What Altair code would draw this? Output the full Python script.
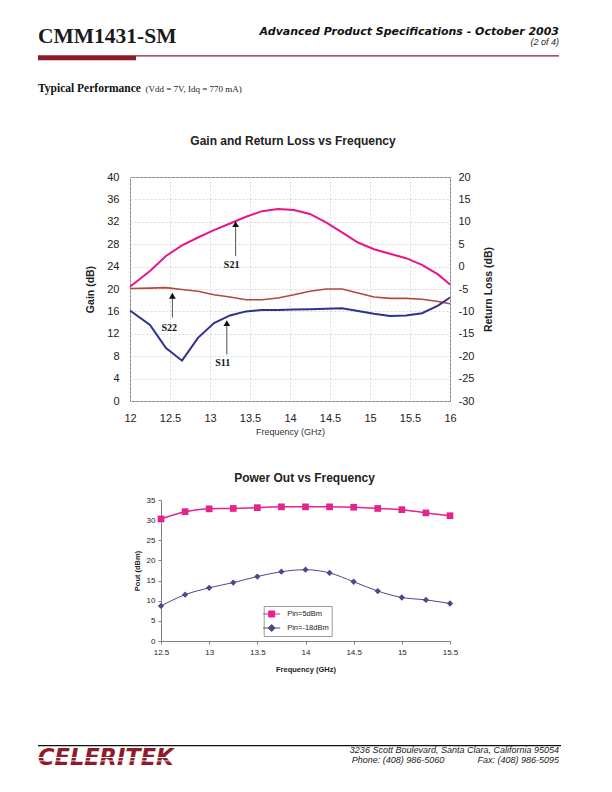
import altair as alt
import pandas as pd

SANS = "Liberation Sans"
SERIF = "Liberation Serif"
HEAVY = "DejaVu Sans"
RED = "#8d1c2b"

# ---------------- page text ----------------
doc_title = "CMM1431-SM"
doc_subtitle = "Advanced Product Specifications - October 2003"
doc_page = "(2 of 4)"
section_title = "Typical Performance"
section_cond = "(Vdd = 7V, Idq = 770 mA)"
logo_text = "CELERITEK"
addr_line1 = "3236 Scott Boulevard, Santa Clara, California 95054"
addr_phone = "Phone: (408) 986-5060"
addr_fax = "Fax: (408) 986-5095"

# ---------------- chart 1 data ----------------
freq_sp = [12.0, 12.25, 12.45, 12.65, 12.85, 13.05, 13.25, 13.45, 13.65, 13.85, 14.05,
           14.25, 14.45, 14.65, 14.85, 15.05, 15.25, 15.45, 15.65, 15.85, 16.0]
s21_gain = [20.4, 23.2, 25.9, 27.8, 29.2, 30.5, 31.7, 32.9, 33.9, 34.3, 34.1,
            33.4, 31.9, 30.1, 28.3, 27.1, 26.3, 25.5, 24.3, 22.6, 20.8]
s22_rl = [-4.9, -4.8, -4.7, -5.1, -5.5, -6.3, -6.8, -7.4, -7.4, -7.0, -6.3,
          -5.5, -5.0, -5.0, -5.9, -6.8, -7.1, -7.1, -7.3, -7.8, -8.3]
s11_rl = [-9.8, -13.0, -18.2, -21.0, -15.9, -12.6, -10.9, -10.0, -9.7, -9.7, -9.6,
          -9.5, -9.4, -9.3, -9.9, -10.5, -11.0, -10.9, -10.4, -8.7, -6.9]
freq_ticks1 = [12, 12.5, 13, 13.5, 14, 14.5, 15, 15.5, 16]
gain_ticks = [0, 4, 8, 12, 16, 20, 24, 28, 32, 36, 40]
rl_ticks = [-30, -25, -20, -15, -10, -5, 0, 5, 10, 15, 20]

ann_labels = ["S21", "S22", "S11"]
ann_x = [13.32, 12.53, 13.21]
ann_tip = [31.6, 18.8, 13.9]
ann_tail = [25.9, 14.9, 8.3]
ann_lx = [13.27, 12.49, 13.16]
ann_ly = [24.3, 13.1, 6.7]

# ---------------- chart 2 data ----------------
freq_pout = [12.5, 12.75, 13.0, 13.25, 13.5, 13.75, 14.0, 14.25, 14.5, 14.75, 15.0, 15.25, 15.5]
pout_5dbm = [30.3, 32.1, 32.8, 32.9, 33.1, 33.3, 33.3, 33.3, 33.2, 32.9, 32.6, 31.8, 31.1]
pout_m18dbm = [8.7, 11.5, 13.2, 14.5, 16.0, 17.2, 17.7, 16.9, 14.7, 12.4, 10.8, 10.2, 9.3]
series_names = ["Pin=5dBm", "Pin=-18dBm"]
pout_ticks = [0, 5, 10, 15, 20, 25, 30, 35]
freq_ticks2 = [12.5, 13, 13.5, 14, 14.5, 15, 15.5]

PLAIN = "'' + datum.value"


def one():
    return pd.DataFrame({"k": [0]})


def txt(s, x, y, **kw):
    return alt.Chart(pd.DataFrame({"t": [s]})).mark_text(baseline="alphabetic", **kw).encode(
        x=alt.value(x), y=alt.value(y), text="t:N")


def box(x, x2, y, y2, color):
    return alt.Chart(one()).mark_rect(color=color).encode(
        x=alt.value(x), x2=alt.value(x2), y=alt.value(y), y2=alt.value(y2))


# ---------------- header ----------------
header = alt.layer(
    txt(doc_title, -92, 34, align="left", font=SERIF, fontSize=21.5, fontWeight="bold", color="#1a1a1a"),
    txt(doc_subtitle, 429, 25.5, align="right", font=HEAVY, fontSize=11, fontWeight="bold",
        fontStyle="italic", color="#111"),
    txt(doc_page, 429, 35.5, align="right", font=SANS, fontSize=9, fontStyle="italic", color="#222"),
    box(-92, 6, 46.3, 51.3, RED),
    box(6, 429, 46.3, 47.5, RED),
    txt(section_title, -92, 83, align="left", font=SERIF, fontSize=11.5, fontWeight="bold", color="#111"),
    txt(section_cond, 15.5, 83, align="left", font=SERIF, fontSize=9, color="#222"),
).properties(width=320, height=69)

# ---------------- footer ----------------
footer = alt.layer(
    box(-92, 431, 5, 6.2, "#111"),
    txt(logo_text, -92, 24.5, align="left", font=HEAVY, fontSize=22.5, fontWeight="bold",
        fontStyle="italic", color=RED),
    box(-92, 56, 17, 18, "white"),
    box(-92, 56, 20.5, 21.3, "white"),
    txt(addr_line1, 429, 13.3, align="right", font=SANS, fontSize=9, fontStyle="italic", color="#222"),
    txt(addr_phone, 221.7, 23.3, align="left", font=SANS, fontSize=9, fontStyle="italic", color="#222"),
    txt(addr_fax, 429, 23.3, align="right", font=SANS, fontSize=9, fontStyle="italic", color="#222"),
).properties(width=320, height=40)

# ---------------- chart 1 ----------------
PINK = "#e8168a"
BRICK = "#b5473d"
NAVY = "#2e3192"
GRID = "#cfcfcf"

sp = pd.DataFrame({"freq": freq_sp, "s21": s21_gain, "s22": s22_rl, "s11": s11_rl})
ann = pd.DataFrame({"label": ann_labels, "ax": ann_x, "tip": ann_tip, "tail": ann_tail,
                    "lx": ann_lx, "ly": ann_ly})


def xfreq1(field):
    return alt.X(f"{field}:Q", scale=alt.Scale(domain=[12, 16], nice=False, zero=False),
                 axis=alt.Axis(values=freq_ticks1, labelExpr=PLAIN, title="Frequency (GHz)",
                               grid=True, gridColor=GRID, gridDash=[2, 2], gridWidth=0.8,
                               ticks=False, tickSize=0, domain=False, labelFlush=False,
                               labelFont=SANS, labelFontSize=11, labelColor="#222", labelPadding=11,
                               titleFont=SANS, titleFontSize=9, titleFontWeight="normal",
                               titleColor="#333", titleY=30, titleBaseline="middle"))


def ygain(field):
    return alt.Y(f"{field}:Q", scale=alt.Scale(domain=[0, 40], nice=False, zero=False),
                 axis=alt.Axis(values=gain_ticks, labelExpr=PLAIN, title="Gain (dB)", orient="left",
                               grid=True, gridColor=GRID, gridDash=[2, 2], gridWidth=0.8,
                               ticks=False, tickSize=0, domain=False, labelFlush=False,
                               labelFont=SANS, labelFontSize=11, labelColor="#222", labelPadding=11,
                               titleFont=SANS, titleFontSize=10.5, titleFontWeight="bold",
                               titleColor="#222", titleX=-40, titleY=112, titleAngle=270,
                               titleBaseline="middle", titleAlign="center"))


def yrl(field):
    return alt.Y(f"{field}:Q", scale=alt.Scale(domain=[-30, 20], nice=False, zero=False),
                 axis=alt.Axis(values=rl_ticks, labelExpr=PLAIN, title="Return Loss (dB)", orient="right",
                               grid=False, ticks=False, tickSize=0, domain=False, labelFlush=False,
                               labelFont=SANS, labelFontSize=11, labelColor="#222", labelPadding=8,
                               titleFont=SANS, titleFontSize=10.5, titleFontWeight="bold",
                               titleColor="#222", titleX=38, titleY=112, titleAngle=270,
                               titleBaseline="middle", titleAlign="center"))


s21 = alt.Chart(sp).mark_line(color=PINK, strokeWidth=2).encode(x=xfreq1("freq"), y=ygain("s21"))
ann_rule = alt.Chart(ann).mark_rule(color="#555", strokeWidth=1).encode(
    x=xfreq1("ax"), y=ygain("tip"), y2="tail:Q")
ann_head = alt.Chart(ann).mark_point(shape="triangle-up", filled=True, color="#111", size=45,
                                     opacity=1).encode(x=xfreq1("ax"), y=ygain("tip"))
ann_text = alt.Chart(ann).mark_text(font=SERIF, fontSize=10, fontWeight="bold", color="#111",
                                    baseline="middle").encode(
    x=xfreq1("lx"), y=ygain("ly"), text="label:N")
s22 = alt.Chart(sp).mark_line(color=BRICK, strokeWidth=1.6).encode(x=xfreq1("freq"), y=yrl("s22"))
s11 = alt.Chart(sp).mark_line(color=NAVY, strokeWidth=2).encode(x=xfreq1("freq"), y=yrl("s11"))

chart1 = alt.layer(
    alt.layer(s21, ann_rule, ann_head, ann_text),
    alt.layer(s22, s11),
).resolve_scale(y="independent").properties(
    width=320, height=224,
    view=alt.ViewBackground(stroke="#7f7f7f", strokeWidth=1),
    title=alt.Title("Gain and Return Loss vs Frequency", font=SANS, fontSize=12, fontWeight="bold",
                    color="#222", anchor="middle", frame="group", offset=18, baseline="middle", dx=3),
)

# ---------------- chart 2 ----------------
PINK2 = "#e4238c"
PURPLE = "#4a4a8a"
AX = "#808080"
SQ_PATH = "M-1.7,0H1.7M-0.6,-0.6H0.6V0.6H-0.6Z"
DI_PATH = "M-1.7,0H1.7M0,-0.7L0.7,0L0,0.7L-0.7,0Z"

pout = pd.DataFrame({
    "freq": freq_pout + freq_pout,
    "pout": pout_5dbm + pout_m18dbm,
    "series": [series_names[0]] * len(freq_pout) + [series_names[1]] * len(freq_pout),
})

xfreq2 = alt.X("freq:Q", scale=alt.Scale(domain=[12.5, 15.5], nice=False, zero=False, range=[31, 320]),
               axis=alt.Axis(values=freq_ticks2, labelExpr=PLAIN, title="Frequency (GHz)", grid=False,
                             ticks=True, tickSize=3, tickColor=AX, domain=True, domainColor=AX,
                             labelFlush=False, labelFont=SANS, labelFontSize=8, labelColor="#222",
                             labelPadding=4, titleFont=SANS, titleFontSize=7.5, titleFontWeight="bold",
                             titleColor="#222", titleY=28, titleBaseline="middle"))
ypout = alt.Y("pout:Q", scale=alt.Scale(domain=[0, 35], nice=False, zero=False),
              axis=alt.Axis(values=pout_ticks, labelExpr=PLAIN, title="Pout (dBm)", offset=-31, grid=False,
                            ticks=True, tickSize=3, tickColor=AX, domain=True, domainColor=AX,
                            labelFont=SANS, labelFontSize=8, labelColor="#222", labelPadding=3,
                            titleFont=SANS, titleFontSize=7.5, titleFontWeight="bold",
                            titleColor="#222", titleX=-24, titleY=70.5, titleAngle=270,
                            titleBaseline="middle", titleAlign="center"))

ser_scale = alt.Scale(domain=series_names, range=[PINK2, PURPLE])
shape_scale = alt.Scale(domain=series_names, range=[SQ_PATH, DI_PATH])
# legend is placed in the top-level group: coordinates relative to the page-level origin
leg = alt.Legend(title=None, orient="none", legendX=133.7, legendY=597, fillColor="white",
                 strokeColor="#9a9a9a", padding=2.5, labelFont=SANS, labelFontSize=7.5,
                 labelColor="#222", symbolSize=100, symbolStrokeWidth=1, rowPadding=3, labelOffset=10)


def series_layers(name, shape, size, width):
    base = alt.Chart(pout).transform_filter(alt.datum.series == name)
    line = base.mark_line(interpolate="monotone", strokeWidth=width).encode(
        x=xfreq2, y=ypout, stroke=alt.Stroke("series:N", scale=ser_scale, legend=leg))
    pts = base.mark_point(shape=shape, filled=True, size=size, opacity=1).encode(
        x=xfreq2, y=ypout, fill=alt.Fill("series:N", scale=ser_scale, legend=leg))
    return [line, pts]


legend_layer = alt.Chart(pout).transform_filter("false").mark_point(filled=True, opacity=1).encode(
    x=xfreq2, y=ypout,
    fill=alt.Fill("series:N", scale=ser_scale, legend=leg),
    stroke=alt.Stroke("series:N", scale=ser_scale, legend=leg),
    shape=alt.Shape("series:N", scale=shape_scale, legend=leg),
)

chart2 = alt.layer(
    *series_layers(series_names[0], "square", 45, 1.5),
    *series_layers(series_names[1], "diamond", 40, 1.0),
    legend_layer,
).properties(
    width=320, height=141,
    title=alt.Title("Power Out vs Frequency", font=SANS, fontSize=12, fontWeight="bold",
                    color="#222", anchor="middle", frame="group", offset=6, baseline="middle", dx=14.5),
)

chart = alt.vconcat(header, chart1, chart2, footer, spacing=99, bounds="flush").properties(
    padding={"left": 29, "top": 0, "right": 0, "bottom": 0},
    background="white",
).configure_view(stroke="transparent")

chart.save("out.html", embed_options={"renderer": "svg", "actions": False})
